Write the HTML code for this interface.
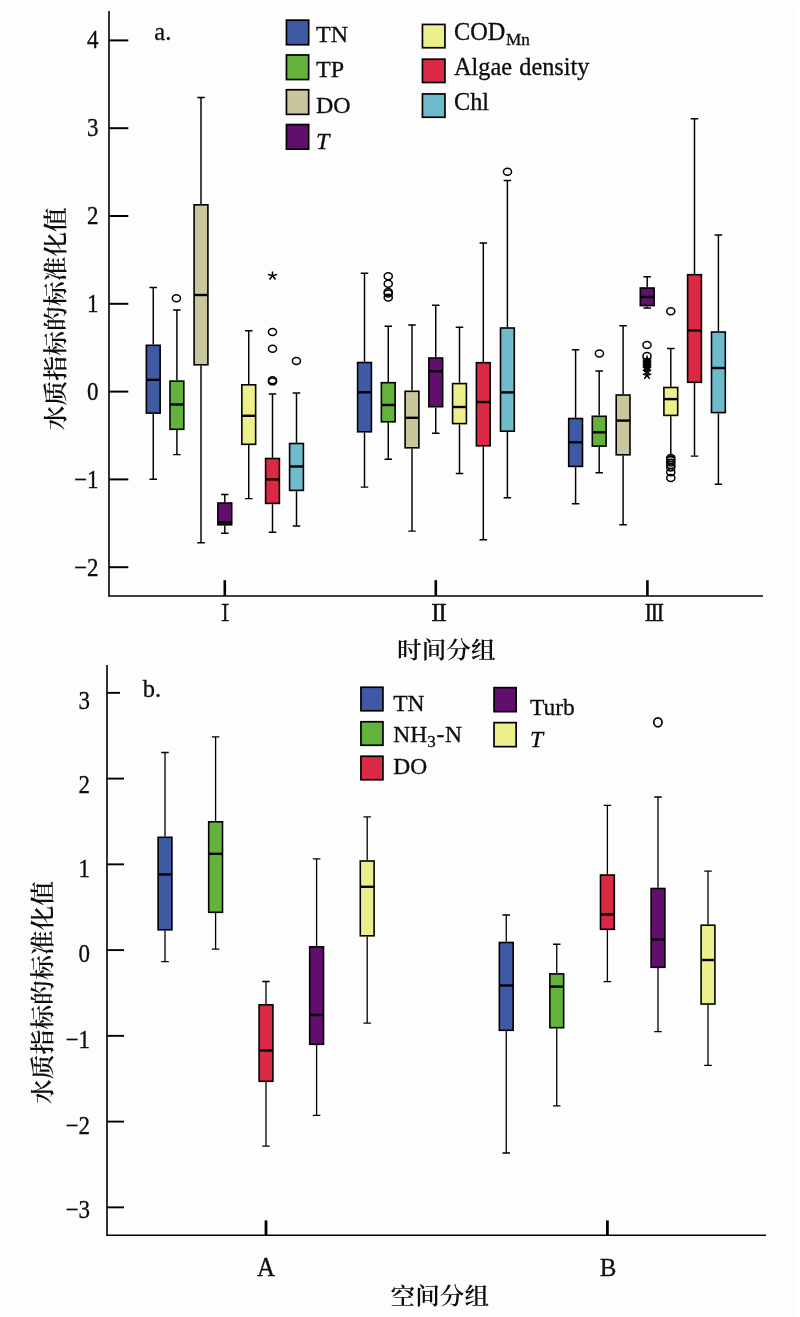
<!DOCTYPE html>
<html lang="zh">
<head>
<meta charset="utf-8">
<title>水质指标的标准化值 boxplots</title>
<style>
html,body{margin:0;padding:0;background:#fff;}
body{width:800px;height:1317px;overflow:hidden;}
svg{display:block;}
text{white-space:pre;}
</style>
</head>
<body>
<svg width="800" height="1317" viewBox="0 0 800 1317">
<rect width="800" height="1317" fill="#ffffff"/><rect x="0" y="2" width="797" height="1315" fill="#fdfdfd"/>
<path d="M109.0 11V596.0H763" stroke="#000000" stroke-width="1.6" fill="none"/>
<path d="M109.0 40.40H128.3" stroke="#000000" stroke-width="2"/>
<text transform="translate(98.60 47.50) scale(1 1.12)" font-size="23" text-anchor="end" font-family='"Liberation Serif", serif' fill="#0d0d0d" stroke="#0d0d0d" stroke-width="0.3">4</text>
<path d="M109.0 128.20H128.3" stroke="#000000" stroke-width="2"/>
<text transform="translate(98.60 135.60) scale(1 1.12)" font-size="23" text-anchor="end" font-family='"Liberation Serif", serif' fill="#0d0d0d" stroke="#0d0d0d" stroke-width="0.3">3</text>
<path d="M109.0 216.00H128.3" stroke="#000000" stroke-width="2"/>
<text transform="translate(98.60 223.70) scale(1 1.12)" font-size="23" text-anchor="end" font-family='"Liberation Serif", serif' fill="#0d0d0d" stroke="#0d0d0d" stroke-width="0.3">2</text>
<path d="M109.0 303.80H128.3" stroke="#000000" stroke-width="2"/>
<text transform="translate(98.60 311.80) scale(1 1.12)" font-size="23" text-anchor="end" font-family='"Liberation Serif", serif' fill="#0d0d0d" stroke="#0d0d0d" stroke-width="0.3">1</text>
<path d="M109.0 391.60H128.3" stroke="#000000" stroke-width="2"/>
<text transform="translate(98.60 399.90) scale(1 1.12)" font-size="23" text-anchor="end" font-family='"Liberation Serif", serif' fill="#0d0d0d" stroke="#0d0d0d" stroke-width="0.3">0</text>
<path d="M109.0 479.40H128.3" stroke="#000000" stroke-width="2"/>
<text transform="translate(98.60 488.00) scale(1 1.12)" font-size="23" text-anchor="end" font-family='"Liberation Serif", serif' fill="#0d0d0d" stroke="#0d0d0d" stroke-width="0.3">−1</text>
<path d="M109.0 567.20H128.3" stroke="#000000" stroke-width="2"/>
<text transform="translate(98.60 576.10) scale(1 1.12)" font-size="23" text-anchor="end" font-family='"Liberation Serif", serif' fill="#0d0d0d" stroke="#0d0d0d" stroke-width="0.3">−2</text>
<path d="M224.8 580.2V596.0" stroke="#000000" stroke-width="2.6"/>
<path d="M435.8 580.2V596.0" stroke="#000000" stroke-width="2.6"/>
<path d="M647.4 580.2V596.0" stroke="#000000" stroke-width="2.6"/>
<text transform="translate(154.30 39.80) scale(1 1.04)" font-size="24.5" text-anchor="start" font-family='"Liberation Serif", serif' fill="#0d0d0d" stroke="#0d0d0d" stroke-width="0.3">a.</text>
<text transform="translate(225.20 620.60) scale(0.85 1.02)" font-size="21.6" text-anchor="middle" font-family='"Liberation Serif", "Noto Serif CJK SC", serif' fill="#0d0d0d" stroke="#0d0d0d" stroke-width="0.7">Ⅰ</text>
<text transform="translate(439.00 620.60) scale(1.0 1.02)" font-size="21.6" text-anchor="middle" font-family='"Liberation Serif", "Noto Serif CJK SC", serif' fill="#0d0d0d" stroke="#0d0d0d" stroke-width="0.7">Ⅱ</text>
<text transform="translate(654.30 620.60) scale(0.92 1.05)" font-size="21.0" text-anchor="middle" font-family='"Liberation Serif", "Noto Serif CJK SC", serif' fill="#0d0d0d" stroke="#0d0d0d" stroke-width="0.7">Ⅲ</text>
<text transform="translate(446.30 658.40) scale(1 0.93)" font-size="24.6" text-anchor="middle" font-family='"Liberation Serif", "Noto Serif CJK SC", serif' fill="#0d0d0d" font-weight="600">时间分组</text>
<text transform="translate(64.3 318.7) rotate(-90) scale(1 0.94)" font-size="24.8" text-anchor="middle" font-family='"Liberation Serif", "Noto Serif CJK SC", serif' fill="#0d0d0d" font-weight="600">水质指标的标准化值</text>
<rect x="286.45" y="20.15" width="22.20" height="24.60" fill="#3f5aa5" stroke="#000000" stroke-width="1.7"/>
<text x="316.00" y="42.20" font-size="24" text-anchor="start" font-family='"Liberation Serif", serif' fill="#0d0d0d" stroke="#0d0d0d" stroke-width="0.3">TN</text>
<rect x="286.45" y="54.95" width="22.20" height="24.60" fill="#62b23c" stroke="#000000" stroke-width="1.7"/>
<text x="316.00" y="77.40" font-size="24" text-anchor="start" font-family='"Liberation Serif", serif' fill="#0d0d0d" stroke="#0d0d0d" stroke-width="0.3">TP</text>
<rect x="286.45" y="89.75" width="22.20" height="24.60" fill="#c9c69d" stroke="#000000" stroke-width="1.7"/>
<text x="316.00" y="113.20" font-size="24" text-anchor="start" font-family='"Liberation Serif", serif' fill="#0d0d0d" stroke="#0d0d0d" stroke-width="0.3">DO</text>
<rect x="286.45" y="124.55" width="22.20" height="24.60" fill="#620e6c" stroke="#000000" stroke-width="1.7"/>
<text x="316.00" y="148.90" font-size="24" text-anchor="start" font-family='"Liberation Serif", serif' fill="#0d0d0d" stroke="#0d0d0d" stroke-width="0.3"><tspan font-style="italic">T</tspan></text>
<rect x="422.45" y="24.45" width="22.50" height="23.30" fill="#ecef8a" stroke="#000000" stroke-width="1.7"/>
<text x="454.00" y="40.00" font-size="24.3" text-anchor="start" font-family='"Liberation Serif", serif' fill="#0d0d0d" stroke="#0d0d0d" stroke-width="0.3" word-spacing="1.2">COD<tspan font-size="17.2" dx="0.6" dy="4.5">Mn</tspan></text>
<rect x="422.45" y="59.20" width="22.50" height="23.30" fill="#da2944" stroke="#000000" stroke-width="1.7"/>
<text x="454.00" y="74.50" font-size="24.3" text-anchor="start" font-family='"Liberation Serif", serif' fill="#0d0d0d" stroke="#0d0d0d" stroke-width="0.3" word-spacing="1.2">Algae density</text>
<rect x="422.45" y="93.95" width="22.50" height="23.30" fill="#6fbbcb" stroke="#000000" stroke-width="1.7"/>
<text x="454.00" y="110.00" font-size="24.3" text-anchor="start" font-family='"Liberation Serif", serif' fill="#0d0d0d" stroke="#0d0d0d" stroke-width="0.3" word-spacing="1.2">Chl</text>
<path d="M153.25 287.50V344.50M153.25 413.90V479.30M149.50 287.50H157.00M149.50 479.30H157.00" stroke="#000000" stroke-width="1.45" fill="none"/>
<rect x="146.35" y="345.30" width="13.80" height="67.80" fill="#3f5aa5" stroke="#000000" stroke-width="1.6"/>
<path d="M146.15 379.80H160.35" stroke="#000000" stroke-width="2.4"/>
<path d="M176.90 310.00V380.30M176.90 430.10V454.60M173.15 310.00H180.65M173.15 454.60H180.65" stroke="#000000" stroke-width="1.45" fill="none"/>
<rect x="170.00" y="381.10" width="13.80" height="48.20" fill="#62b23c" stroke="#000000" stroke-width="1.6"/>
<path d="M169.80 404.50H184.00" stroke="#000000" stroke-width="2.4"/>
<path d="M201.00 97.50V204.00M201.00 365.60V542.80M197.25 97.50H204.75M197.25 542.80H204.75" stroke="#000000" stroke-width="1.45" fill="none"/>
<rect x="194.10" y="204.80" width="13.80" height="160.00" fill="#c9c69d" stroke="#000000" stroke-width="1.6"/>
<path d="M193.90 295.00H208.10" stroke="#000000" stroke-width="2.4"/>
<path d="M224.80 494.50V502.20M224.80 525.60V533.30M221.05 494.50H228.55M221.05 533.30H228.55" stroke="#000000" stroke-width="1.45" fill="none"/>
<rect x="217.90" y="503.00" width="13.80" height="21.80" fill="#620e6c" stroke="#000000" stroke-width="1.6"/>
<path d="M217.70 522.30H231.90" stroke="#000000" stroke-width="2.4"/>
<path d="M248.75 330.70V384.00M248.75 445.10V498.60M245.00 330.70H252.50M245.00 498.60H252.50" stroke="#000000" stroke-width="1.45" fill="none"/>
<rect x="241.85" y="384.80" width="13.80" height="59.50" fill="#ecef8a" stroke="#000000" stroke-width="1.6"/>
<path d="M241.65 415.80H255.85" stroke="#000000" stroke-width="2.4"/>
<path d="M272.50 394.00V457.70M272.50 504.20V532.30M268.75 394.00H276.25M268.75 532.30H276.25" stroke="#000000" stroke-width="1.45" fill="none"/>
<rect x="265.60" y="458.50" width="13.80" height="44.90" fill="#da2944" stroke="#000000" stroke-width="1.6"/>
<path d="M265.40 479.40H279.60" stroke="#000000" stroke-width="2.4"/>
<path d="M296.50 392.90V442.70M296.50 491.20V525.90M292.75 392.90H300.25M292.75 525.90H300.25" stroke="#000000" stroke-width="1.45" fill="none"/>
<rect x="289.60" y="443.50" width="13.80" height="46.90" fill="#6fbbcb" stroke="#000000" stroke-width="1.6"/>
<path d="M289.40 466.50H303.60" stroke="#000000" stroke-width="2.4"/>
<path d="M364.50 273.30V361.70M364.50 432.60V487.10M360.75 273.30H368.25M360.75 487.10H368.25" stroke="#000000" stroke-width="1.45" fill="none"/>
<rect x="357.60" y="362.50" width="13.80" height="69.30" fill="#3f5aa5" stroke="#000000" stroke-width="1.6"/>
<path d="M357.40 392.30H371.60" stroke="#000000" stroke-width="2.4"/>
<path d="M388.25 326.30V381.90M388.25 422.60V459.30M384.50 326.30H392.00M384.50 459.30H392.00" stroke="#000000" stroke-width="1.45" fill="none"/>
<rect x="381.35" y="382.70" width="13.80" height="39.10" fill="#62b23c" stroke="#000000" stroke-width="1.6"/>
<path d="M381.15 405.00H395.35" stroke="#000000" stroke-width="2.4"/>
<path d="M412.00 325.00V390.50M412.00 448.60V531.10M408.25 325.00H415.75M408.25 531.10H415.75" stroke="#000000" stroke-width="1.45" fill="none"/>
<rect x="405.10" y="391.30" width="13.80" height="56.50" fill="#c9c69d" stroke="#000000" stroke-width="1.6"/>
<path d="M404.90 417.80H419.10" stroke="#000000" stroke-width="2.4"/>
<path d="M435.75 305.20V357.20M435.75 407.50V433.30M432.00 305.20H439.50M432.00 433.30H439.50" stroke="#000000" stroke-width="1.45" fill="none"/>
<rect x="428.85" y="358.00" width="13.80" height="48.70" fill="#620e6c" stroke="#000000" stroke-width="1.6"/>
<path d="M428.65 371.30H442.85" stroke="#000000" stroke-width="2.4"/>
<path d="M459.50 327.30V382.80M459.50 424.40V473.50M455.75 327.30H463.25M455.75 473.50H463.25" stroke="#000000" stroke-width="1.45" fill="none"/>
<rect x="452.60" y="383.60" width="13.80" height="40.00" fill="#ecef8a" stroke="#000000" stroke-width="1.6"/>
<path d="M452.40 407.00H466.60" stroke="#000000" stroke-width="2.4"/>
<path d="M483.30 243.00V361.90M483.30 446.60V539.80M479.55 243.00H487.05M479.55 539.80H487.05" stroke="#000000" stroke-width="1.45" fill="none"/>
<rect x="476.40" y="362.70" width="13.80" height="83.10" fill="#da2944" stroke="#000000" stroke-width="1.6"/>
<path d="M476.20 402.00H490.40" stroke="#000000" stroke-width="2.4"/>
<path d="M507.40 180.50V327.20M507.40 432.00V497.80M503.65 180.50H511.15M503.65 497.80H511.15" stroke="#000000" stroke-width="1.45" fill="none"/>
<rect x="500.50" y="328.00" width="13.80" height="103.20" fill="#6fbbcb" stroke="#000000" stroke-width="1.6"/>
<path d="M500.30 392.40H514.50" stroke="#000000" stroke-width="2.4"/>
<path d="M575.60 349.70V417.70M575.60 467.20V503.80M571.85 349.70H579.35M571.85 503.80H579.35" stroke="#000000" stroke-width="1.45" fill="none"/>
<rect x="568.70" y="418.50" width="13.80" height="47.90" fill="#3f5aa5" stroke="#000000" stroke-width="1.6"/>
<path d="M568.50 442.30H582.70" stroke="#000000" stroke-width="2.4"/>
<path d="M599.20 371.00V415.50M599.20 446.90V472.80M595.45 371.00H602.95M595.45 472.80H602.95" stroke="#000000" stroke-width="1.45" fill="none"/>
<rect x="592.30" y="416.30" width="13.80" height="29.80" fill="#62b23c" stroke="#000000" stroke-width="1.6"/>
<path d="M592.10 432.30H606.30" stroke="#000000" stroke-width="2.4"/>
<path d="M623.10 325.80V394.20M623.10 455.60V524.80M619.35 325.80H626.85M619.35 524.80H626.85" stroke="#000000" stroke-width="1.45" fill="none"/>
<rect x="616.20" y="395.00" width="13.80" height="59.80" fill="#c9c69d" stroke="#000000" stroke-width="1.6"/>
<path d="M616.00 420.60H630.20" stroke="#000000" stroke-width="2.4"/>
<path d="M647.20 276.80V287.20M647.20 306.40V307.90M643.45 276.80H650.95M643.45 307.90H650.95" stroke="#000000" stroke-width="1.45" fill="none"/>
<rect x="640.30" y="288.00" width="13.80" height="17.60" fill="#620e6c" stroke="#000000" stroke-width="1.6"/>
<path d="M640.10 297.00H654.30" stroke="#000000" stroke-width="2.4"/>
<path d="M670.80 348.50V386.70M670.80 416.20V456.30M667.05 348.50H674.55M667.05 456.30H674.55" stroke="#000000" stroke-width="1.45" fill="none"/>
<rect x="663.90" y="387.50" width="13.80" height="27.90" fill="#ecef8a" stroke="#000000" stroke-width="1.6"/>
<path d="M663.70 399.10H677.90" stroke="#000000" stroke-width="2.4"/>
<path d="M694.50 118.80V273.90M694.50 383.10V456.10M690.75 118.80H698.25M690.75 456.10H698.25" stroke="#000000" stroke-width="1.45" fill="none"/>
<rect x="687.60" y="274.70" width="13.80" height="107.60" fill="#da2944" stroke="#000000" stroke-width="1.6"/>
<path d="M687.40 330.50H701.60" stroke="#000000" stroke-width="2.4"/>
<path d="M718.40 235.00V331.20M718.40 413.40V484.30M714.65 235.00H722.15M714.65 484.30H722.15" stroke="#000000" stroke-width="1.45" fill="none"/>
<rect x="711.50" y="332.00" width="13.80" height="80.60" fill="#6fbbcb" stroke="#000000" stroke-width="1.6"/>
<path d="M711.30 368.00H725.50" stroke="#000000" stroke-width="2.4"/>
<ellipse cx="176.40" cy="298.30" rx="4.05" ry="3.45" fill="none" stroke="#000000" stroke-width="1.5"/>
<path d="M272.50 275.80l0.00 -4.30M272.50 275.80l4.60 -1.40M272.50 275.80l-4.60 -1.40M272.50 275.80l3.00 3.70M272.50 275.80l-3.00 3.70" stroke="#000000" stroke-width="1.5" fill="none"/>
<ellipse cx="272.50" cy="332.00" rx="4.05" ry="3.45" fill="none" stroke="#000000" stroke-width="1.5"/>
<ellipse cx="272.50" cy="348.80" rx="4.05" ry="3.45" fill="none" stroke="#000000" stroke-width="1.5"/>
<ellipse cx="272.50" cy="380.30" rx="4.05" ry="3.45" fill="none" stroke="#000000" stroke-width="1.5"/>
<ellipse cx="272.50" cy="381.40" rx="4.05" ry="3.45" fill="none" stroke="#000000" stroke-width="1.5"/>
<ellipse cx="296.40" cy="361.00" rx="4.05" ry="3.45" fill="none" stroke="#000000" stroke-width="1.5"/>
<ellipse cx="388.25" cy="276.30" rx="4.05" ry="3.45" fill="none" stroke="#000000" stroke-width="1.5"/>
<ellipse cx="388.25" cy="283.80" rx="4.05" ry="3.45" fill="none" stroke="#000000" stroke-width="1.5"/>
<ellipse cx="388.25" cy="292.00" rx="4.05" ry="3.45" fill="none" stroke="#000000" stroke-width="1.5"/>
<ellipse cx="388.25" cy="293.50" rx="4.05" ry="3.45" fill="none" stroke="#000000" stroke-width="1.5"/>
<ellipse cx="388.25" cy="297.60" rx="4.05" ry="3.45" fill="none" stroke="#000000" stroke-width="1.5"/>
<ellipse cx="507.50" cy="171.80" rx="4.05" ry="3.45" fill="none" stroke="#000000" stroke-width="1.5"/>
<ellipse cx="599.40" cy="353.50" rx="4.05" ry="3.45" fill="none" stroke="#000000" stroke-width="1.5"/>
<ellipse cx="647.00" cy="345.00" rx="4.05" ry="3.45" fill="none" stroke="#000000" stroke-width="1.5"/>
<ellipse cx="647.00" cy="356.00" rx="4.05" ry="3.45" fill="none" stroke="#000000" stroke-width="1.5"/>
<path d="M647.00 359.50l0.00 -3.96M647.00 359.50l4.23 -1.29M647.00 359.50l-4.23 -1.29M647.00 359.50l2.76 3.40M647.00 359.50l-2.76 3.40" stroke="#000000" stroke-width="1.5" fill="none"/>
<path d="M647.00 361.00l0.00 -3.96M647.00 361.00l4.23 -1.29M647.00 361.00l-4.23 -1.29M647.00 361.00l2.76 3.40M647.00 361.00l-2.76 3.40" stroke="#000000" stroke-width="1.5" fill="none"/>
<path d="M647.00 362.50l0.00 -3.96M647.00 362.50l4.23 -1.29M647.00 362.50l-4.23 -1.29M647.00 362.50l2.76 3.40M647.00 362.50l-2.76 3.40" stroke="#000000" stroke-width="1.5" fill="none"/>
<path d="M647.00 364.00l0.00 -3.96M647.00 364.00l4.23 -1.29M647.00 364.00l-4.23 -1.29M647.00 364.00l2.76 3.40M647.00 364.00l-2.76 3.40" stroke="#000000" stroke-width="1.5" fill="none"/>
<path d="M647.00 365.50l0.00 -3.96M647.00 365.50l4.23 -1.29M647.00 365.50l-4.23 -1.29M647.00 365.50l2.76 3.40M647.00 365.50l-2.76 3.40" stroke="#000000" stroke-width="1.5" fill="none"/>
<path d="M647.00 367.00l0.00 -3.96M647.00 367.00l4.23 -1.29M647.00 367.00l-4.23 -1.29M647.00 367.00l2.76 3.40M647.00 367.00l-2.76 3.40" stroke="#000000" stroke-width="1.5" fill="none"/>
<path d="M647.00 368.30l0.00 -3.96M647.00 368.30l4.23 -1.29M647.00 368.30l-4.23 -1.29M647.00 368.30l2.76 3.40M647.00 368.30l-2.76 3.40" stroke="#000000" stroke-width="1.5" fill="none"/>
<path d="M647.00 371.30l0.00 -3.96M647.00 371.30l4.23 -1.29M647.00 371.30l-4.23 -1.29M647.00 371.30l2.76 3.40M647.00 371.30l-2.76 3.40" stroke="#000000" stroke-width="1.5" fill="none"/>
<path d="M647.00 375.40l0.00 -3.96M647.00 375.40l4.23 -1.29M647.00 375.40l-4.23 -1.29M647.00 375.40l2.76 3.40M647.00 375.40l-2.76 3.40" stroke="#000000" stroke-width="1.5" fill="none"/>
<ellipse cx="670.80" cy="311.30" rx="4.05" ry="3.45" fill="none" stroke="#000000" stroke-width="1.5"/>
<ellipse cx="670.80" cy="458.00" rx="4.05" ry="3.45" fill="none" stroke="#000000" stroke-width="1.5"/>
<ellipse cx="670.80" cy="460.30" rx="4.05" ry="3.45" fill="none" stroke="#000000" stroke-width="1.5"/>
<ellipse cx="670.80" cy="462.60" rx="4.05" ry="3.45" fill="none" stroke="#000000" stroke-width="1.5"/>
<ellipse cx="670.80" cy="465.00" rx="4.05" ry="3.45" fill="none" stroke="#000000" stroke-width="1.5"/>
<ellipse cx="670.80" cy="467.50" rx="4.05" ry="3.45" fill="none" stroke="#000000" stroke-width="1.5"/>
<ellipse cx="670.80" cy="472.30" rx="4.05" ry="3.45" fill="none" stroke="#000000" stroke-width="1.5"/>
<ellipse cx="670.80" cy="478.00" rx="4.05" ry="3.45" fill="none" stroke="#000000" stroke-width="1.5"/>
<path d="M107.0 665V1235.3H766" stroke="#000000" stroke-width="1.6" fill="none"/>
<path d="M107.0 692.85H120" stroke="#000000" stroke-width="1.9"/>
<text transform="translate(90.10 708.65) scale(1 1.12)" font-size="23" text-anchor="end" font-family='"Liberation Serif", serif' fill="#0d0d0d" stroke="#0d0d0d" stroke-width="0.3">3</text>
<path d="M107.0 778.60H124" stroke="#000000" stroke-width="1.9"/>
<text transform="translate(90.10 792.80) scale(1 1.12)" font-size="23" text-anchor="end" font-family='"Liberation Serif", serif' fill="#0d0d0d" stroke="#0d0d0d" stroke-width="0.3">2</text>
<path d="M107.0 864.35H124" stroke="#000000" stroke-width="1.9"/>
<text transform="translate(90.10 877.30) scale(1 1.12)" font-size="23" text-anchor="end" font-family='"Liberation Serif", serif' fill="#0d0d0d" stroke="#0d0d0d" stroke-width="0.3">1</text>
<path d="M107.0 950.10H124" stroke="#000000" stroke-width="1.9"/>
<text transform="translate(90.10 962.10) scale(1 1.12)" font-size="23" text-anchor="end" font-family='"Liberation Serif", serif' fill="#0d0d0d" stroke="#0d0d0d" stroke-width="0.3">0</text>
<path d="M107.0 1035.85H124" stroke="#000000" stroke-width="1.9"/>
<text transform="translate(90.10 1048.10) scale(1 1.12)" font-size="23" text-anchor="end" font-family='"Liberation Serif", serif' fill="#0d0d0d" stroke="#0d0d0d" stroke-width="0.3">−1</text>
<path d="M107.0 1121.60H124" stroke="#000000" stroke-width="1.9"/>
<text transform="translate(90.10 1133.90) scale(1 1.12)" font-size="23" text-anchor="end" font-family='"Liberation Serif", serif' fill="#0d0d0d" stroke="#0d0d0d" stroke-width="0.3">−2</text>
<path d="M107.0 1207.35H124" stroke="#000000" stroke-width="1.9"/>
<text transform="translate(90.10 1218.40) scale(1 1.12)" font-size="23" text-anchor="end" font-family='"Liberation Serif", serif' fill="#0d0d0d" stroke="#0d0d0d" stroke-width="0.3">−3</text>
<path d="M266.0 1220.4V1235.3" stroke="#000000" stroke-width="2.8"/>
<path d="M607.4 1220.4V1235.3" stroke="#000000" stroke-width="2.8"/>
<text transform="translate(142.80 697.00) scale(1 1.04)" font-size="24.5" text-anchor="start" font-family='"Liberation Serif", serif' fill="#0d0d0d" stroke="#0d0d0d" stroke-width="0.3">b.</text>
<text transform="translate(265.90 1275.60) scale(1 1.07)" font-size="25" text-anchor="middle" font-family='"Liberation Serif", serif' fill="#0d0d0d" stroke="#0d0d0d" stroke-width="0.3">A</text>
<text transform="translate(608.20 1275.70) scale(1 1.03)" font-size="25" text-anchor="middle" font-family='"Liberation Serif", serif' fill="#0d0d0d" stroke="#0d0d0d" stroke-width="0.3">B</text>
<text transform="translate(439.80 1303.90) scale(1 0.93)" font-size="24.6" text-anchor="middle" font-family='"Liberation Serif", "Noto Serif CJK SC", serif' fill="#0d0d0d" font-weight="600">空间分组</text>
<text transform="translate(51.2 992.5) rotate(-90) scale(1 0.94)" font-size="24.8" text-anchor="middle" font-family='"Liberation Serif", "Noto Serif CJK SC", serif' fill="#0d0d0d" font-weight="600">水质指标的标准化值</text>
<rect x="360.95" y="687.25" width="22.00" height="23.50" fill="#3f5aa5" stroke="#000000" stroke-width="1.7"/>
<text x="393.20" y="710.75" font-size="23.5" text-anchor="start" font-family='"Liberation Serif", serif' fill="#0d0d0d" stroke="#0d0d0d" stroke-width="0.3">TN</text>
<rect x="360.95" y="721.75" width="22.00" height="23.50" fill="#62b23c" stroke="#000000" stroke-width="1.7"/>
<text x="393.20" y="742.40" font-size="23.5" text-anchor="start" font-family='"Liberation Serif", serif' fill="#0d0d0d" stroke="#0d0d0d" stroke-width="0.3">NH<tspan font-size="17" dy="5">3</tspan><tspan dy="-5" dx="0.8">-</tspan><tspan dx="0.8">N</tspan></text>
<rect x="360.95" y="756.25" width="22.00" height="23.50" fill="#da2944" stroke="#000000" stroke-width="1.7"/>
<text x="393.20" y="774.10" font-size="23.5" text-anchor="start" font-family='"Liberation Serif", serif' fill="#0d0d0d" stroke="#0d0d0d" stroke-width="0.3">DO</text>
<rect x="494.05" y="687.65" width="22.10" height="24.00" fill="#620e6c" stroke="#000000" stroke-width="1.7"/>
<text x="530.00" y="714.50" font-size="23.5" text-anchor="start" font-family='"Liberation Serif", serif' fill="#0d0d0d" stroke="#0d0d0d" stroke-width="0.3">Turb</text>
<rect x="494.05" y="722.65" width="22.10" height="24.00" fill="#ecef8a" stroke="#000000" stroke-width="1.7"/>
<text x="530.00" y="746.50" font-size="23.5" text-anchor="start" font-family='"Liberation Serif", serif' fill="#0d0d0d" stroke="#0d0d0d" stroke-width="0.3"><tspan font-style="italic">T</tspan></text>
<path d="M165.00 752.50V836.50M165.00 930.60V961.60M161.25 752.50H168.75M161.25 961.60H168.75" stroke="#000000" stroke-width="1.3" fill="none"/>
<rect x="158.10" y="837.30" width="13.80" height="92.50" fill="#3f5aa5" stroke="#000000" stroke-width="1.6"/>
<path d="M157.90 874.50H172.10" stroke="#000000" stroke-width="2.4"/>
<path d="M215.60 736.80V821.00M215.60 913.10V949.20M211.85 736.80H219.35M211.85 949.20H219.35" stroke="#000000" stroke-width="1.3" fill="none"/>
<rect x="208.70" y="821.80" width="13.80" height="90.50" fill="#62b23c" stroke="#000000" stroke-width="1.6"/>
<path d="M208.50 853.80H222.70" stroke="#000000" stroke-width="2.4"/>
<path d="M266.00 981.50V1004.00M266.00 1082.10V1146.20M262.25 981.50H269.75M262.25 1146.20H269.75" stroke="#000000" stroke-width="1.3" fill="none"/>
<rect x="259.10" y="1004.80" width="13.80" height="76.50" fill="#da2944" stroke="#000000" stroke-width="1.6"/>
<path d="M258.90 1050.50H273.10" stroke="#000000" stroke-width="2.4"/>
<path d="M316.60 858.80V946.00M316.60 1045.10V1115.30M312.85 858.80H320.35M312.85 1115.30H320.35" stroke="#000000" stroke-width="1.3" fill="none"/>
<rect x="309.70" y="946.80" width="13.80" height="97.50" fill="#620e6c" stroke="#000000" stroke-width="1.6"/>
<path d="M309.50 1015.00H323.70" stroke="#000000" stroke-width="2.4"/>
<path d="M367.20 816.80V860.20M367.20 936.60V1023.10M363.45 816.80H370.95M363.45 1023.10H370.95" stroke="#000000" stroke-width="1.3" fill="none"/>
<rect x="360.30" y="861.00" width="13.80" height="74.80" fill="#ecef8a" stroke="#000000" stroke-width="1.6"/>
<path d="M360.10 886.80H374.30" stroke="#000000" stroke-width="2.4"/>
<path d="M506.25 915.00V941.70M506.25 1031.10V1153.00M502.50 915.00H510.00M502.50 1153.00H510.00" stroke="#000000" stroke-width="1.3" fill="none"/>
<rect x="499.35" y="942.50" width="13.80" height="87.80" fill="#3f5aa5" stroke="#000000" stroke-width="1.6"/>
<path d="M499.15 985.50H513.35" stroke="#000000" stroke-width="2.4"/>
<path d="M556.75 944.25V973.10M556.75 1028.50V1105.80M553.00 944.25H560.50M553.00 1105.80H560.50" stroke="#000000" stroke-width="1.3" fill="none"/>
<rect x="549.85" y="973.90" width="13.80" height="53.80" fill="#62b23c" stroke="#000000" stroke-width="1.6"/>
<path d="M549.65 986.60H563.85" stroke="#000000" stroke-width="2.4"/>
<path d="M607.40 805.30V874.20M607.40 930.10V981.70M603.65 805.30H611.15M603.65 981.70H611.15" stroke="#000000" stroke-width="1.3" fill="none"/>
<rect x="600.50" y="875.00" width="13.80" height="54.30" fill="#da2944" stroke="#000000" stroke-width="1.6"/>
<path d="M600.30 914.50H614.50" stroke="#000000" stroke-width="2.4"/>
<path d="M658.00 797.00V887.70M658.00 968.10V1031.55M654.25 797.00H661.75M654.25 1031.55H661.75" stroke="#000000" stroke-width="1.3" fill="none"/>
<rect x="651.10" y="888.50" width="13.80" height="78.80" fill="#620e6c" stroke="#000000" stroke-width="1.6"/>
<path d="M650.90 939.50H665.10" stroke="#000000" stroke-width="2.4"/>
<path d="M708.00 871.20V924.40M708.00 1004.85V1065.30M704.25 871.20H711.75M704.25 1065.30H711.75" stroke="#000000" stroke-width="1.3" fill="none"/>
<rect x="701.10" y="925.20" width="13.80" height="78.85" fill="#ecef8a" stroke="#000000" stroke-width="1.6"/>
<path d="M700.90 960.00H715.10" stroke="#000000" stroke-width="2.4"/>
<ellipse cx="657.90" cy="722.30" rx="4.15" ry="4.5" fill="none" stroke="#000000" stroke-width="1.7"/>
</svg>
</body>
</html>
